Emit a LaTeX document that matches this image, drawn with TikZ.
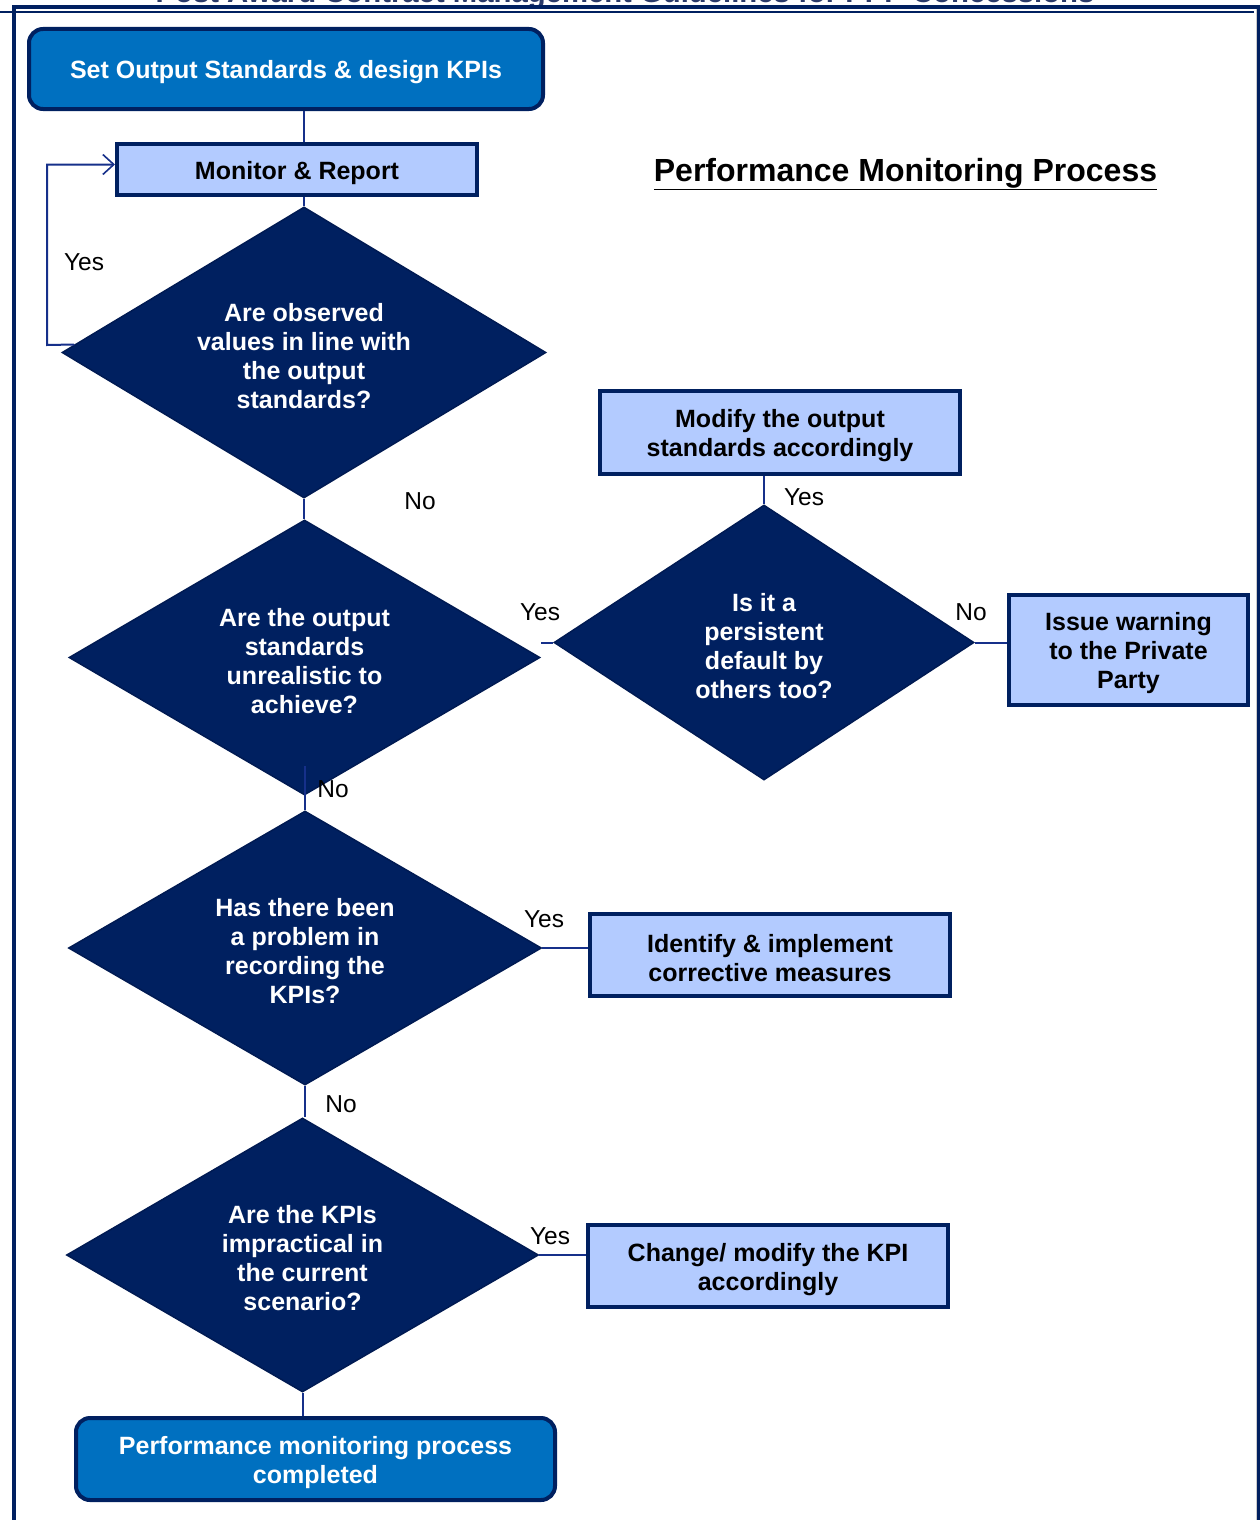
\documentclass[tikz,border=0pt]{standalone}
\usepackage{fontspec}
\setmainfont{Liberation Sans}
\usetikzlibrary{shapes.geometric,arrows.meta}

\definecolor{navy}{HTML}{002060}
\definecolor{navyedge}{HTML}{001A52}
\definecolor{boxblue}{HTML}{0070C0}
\definecolor{paleblue}{HTML}{B3CBFF}
\definecolor{linkblue}{HTML}{16308A}
\definecolor{headgrey}{HTML}{2A3A6A}

% taller first line pushes the text block slightly down inside its shape
\newcommand{\firstline}{\rule{0pt}{25pt}}

\tikzset{
  txt/.style={font=\bfseries\fontsize{25}{29}\selectfont, align=center, inner sep=0pt},
  terminal/.style={txt, rectangle, rounded corners=14pt, fill=boxblue, draw=navy,
                   line width=4pt, text=white},
  actbox/.style={txt, rectangle, fill=paleblue, draw=navy, line width=4pt, text=black},
  decision/.style={txt, diamond, aspect=1.7, fill=navy, draw=navyedge,
                   line width=1.5pt, text=white},
  conn/.style={draw=linkblue, line width=2pt},
  lab/.style={font=\fontsize{24.5}{29}\selectfont, inner sep=0pt, text=black},
}

\begin{document}
\begin{tikzpicture}[x=1pt, y=-1pt]
\useasboundingbox (0,0) rectangle (1260,1520);

% page header (runs off the top edge)
\node[anchor=base, font=\bfseries\fontsize{29.3}{34}\selectfont, text=headgrey, inner sep=0pt]
  (header) at (625,3) {Post Award Contract Management Guidelines for PPP Concessions};

% page frame
\fill[navy] (12,5) rectangle (1260,9);
\fill[navy] (0,11) rectangle (1254,13);
\fill[navy] (12,5) rectangle (16,1520);
\fill[black!20] (1255.5,9) rectangle (1257,1520);
\fill[navy] (1257,9) rectangle (1260,1520);

% title
\node[anchor=base, font=\bfseries\fontsize{32}{38}\selectfont, inner sep=0pt]
  (title) at (905.5,181) {\underline{Performance Monitoring Process}};

% process steps
\node[terminal, minimum width=514pt, minimum height=80pt] (start) at (286,69)
  {\firstline Set Output Standards \& design KPIs};
\node[actbox, minimum width=360pt, minimum height=51pt] (mon) at (297,169.5)
  {\firstline Monitor \& Report};
\node[decision, minimum width=484pt, minimum height=291pt] (d1) at (304,352.5)
  {\firstline Are observed\\values in line with\\the output\\standards?};
\node[decision, minimum width=471pt, minimum height=275pt] (d2) at (304.5,657.5)
  {\firstline Are the output\\standards\\unrealistic to\\achieve?};
\node[decision, aspect=1.5, minimum width=420pt, minimum height=275pt] (d3) at (764,642.5)
  {\firstline Is it a\\persistent\\default by\\others too?};
\node[actbox, minimum width=360pt, minimum height=83pt] (modify) at (780,432.5)
  {\firstline Modify the output\\standards accordingly};
\node[actbox, minimum width=239pt, minimum height=110pt] (warn) at (1128.5,650)
  {\firstline Issue warning\\to the Private\\Party};
\node[decision, minimum width=473pt, minimum height=274pt] (d4) at (305,948)
  {\firstline Has there been\\a problem in\\recording the\\KPIs?};
\node[actbox, minimum width=360pt, minimum height=82pt] (corr) at (770,955)
  {\firstline Identify \& implement\\corrective measures};
\node[decision, minimum width=472pt, minimum height=274pt] (d5) at (302.5,1255)
  {\firstline Are the KPIs\\impractical in\\the current\\scenario?};
\node[actbox, minimum width=360pt, minimum height=82pt] (chg) at (768,1266)
  {\firstline Change/ modify the KPI\\accordingly};
\node[terminal, minimum width=479pt, minimum height=82pt] (done) at (315.5,1459)
  {\firstline Performance monitoring process\\completed};

% connectors
\draw[conn] (d1.north |- start.south) -- (d1.north |- mon.north);
\draw[conn] (d1.north |- mon.south) -- (d1.north);
\coordinate (loopcorner) at (47,345);
\draw[conn, -{Straight Barb[length=11pt, width=20pt, line width=1.6pt]}]
  ([xshift=13pt, yshift=8pt]d1.west) -- (loopcorner) |- ([yshift=5pt]mon.west);
\draw[conn] (d1.south) -- (d1.south |- d2.north);
\draw[conn] (d3.west) -- (d3.west -| d2.east);
\draw[conn] (d3.north |- modify.south) -- (d3.north);
\draw[conn] (d3.east) -- (d3.east -| warn.west);
\draw[conn] ([yshift=30pt]d2.south) -- (d2.south |- d4.north);
\draw[conn] (d4.east) -- (d4.east -| corr.west);
\draw[conn] (d4.south) -- (d4.south |- d5.north);
\draw[conn] (d5.east) -- (d5.east -| chg.west);
\draw[conn] (d5.south) -- (d5.south |- done.north);

% branch labels
\node[lab] (l1) at (84,262) {Yes};
\node[lab] (l2) at (420,501) {No};
\node[lab] (l3) at (540,612) {Yes};
\node[lab] (l4) at (804,497) {Yes};
\node[lab] (l5) at (971,612) {No};
\node[lab] (l6) at (333,789) {No};
\node[lab] (l7) at (544,919) {Yes};
\node[lab] (l8) at (341,1104) {No};
\node[lab] (l9) at (550,1236) {Yes};
\end{tikzpicture}
\end{document}
